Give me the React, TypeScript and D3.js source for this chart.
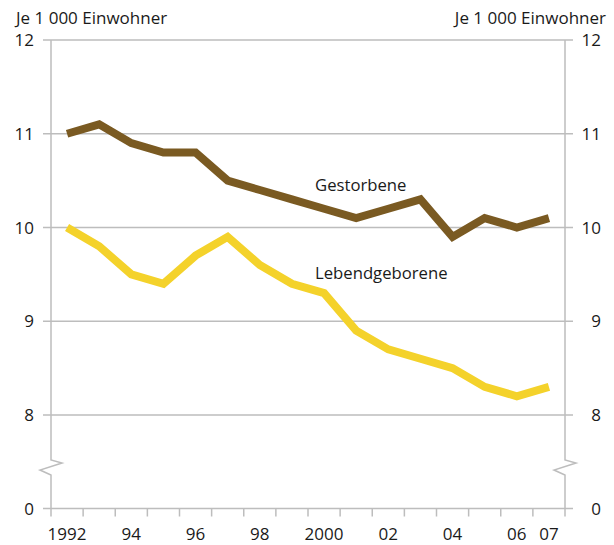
import React from "react";
import * as d3 from "d3";

const years = [1992, 1993, 1994, 1995, 1996, 1997, 1998, 1999, 2000, 2001, 2002, 2003, 2004, 2005, 2006, 2007];
const gestorbene = [11.0, 11.1, 10.9, 10.8, 10.8, 10.5, 10.4, 10.3, 10.2, 10.1, 10.2, 10.3, 9.9, 10.1, 10.0, 10.1];
const lebendgeborene = [10.0, 9.8, 9.5, 9.4, 9.7, 9.9, 9.6, 9.4, 9.3, 8.9, 8.7, 8.6, 8.5, 8.3, 8.2, 8.3];
const yTicks = [0, 8, 9, 10, 11, 12];
const xLabels: Record<number, string> = { 1992: "1992", 1994: "94", 1996: "96", 1998: "98", 2000: "2000", 2002: "02", 2004: "04", 2006: "06", 2007: "07" };
const unitLabel = "Je 1 000 Einwohner";

const W = 614, H = 545;
const left = 51, right = 565;
const FONT = "'Open Sans', 'Noto Sans', sans-serif";
const GRID = "#bdbdbd";
const TXT = "#1a1a1a";

export default function App() {
  const x = d3.scaleBand<number>().domain(years).range([left, right]);
  const y = d3.scaleLinear().domain([0, 8, 12]).range([508.5, 415, 40]);
  const line = d3.line<number>().x((_, i) => x(years[i])! + x.bandwidth() / 2).y((d) => y(d));
  const boundaries = [...years.map((yr) => x(yr)!), right];
  const zig = (ax: number) => {
    const p = d3.path();
    p.moveTo(ax, y(8));
    p.lineTo(ax, 460);
    p.lineTo(ax + 11, 463);
    p.lineTo(ax - 11, 470);
    p.lineTo(ax, 475);
    p.lineTo(ax, y(0));
    return p.toString();
  };
  return (
    <svg width={W} height={H} style={{ position: "absolute", left: 0, top: 0, background: "#fff" }} fontFamily={FONT}>
      {yTicks.map((t) => (
        <g key={t}>
          <line x1={43} x2={573} y1={y(t)} y2={y(t)} stroke={GRID} strokeWidth={1.5} />
          <text x={34} y={y(t)} dy="0.36em" textAnchor="end" fontSize={17} fill={TXT}>{t}</text>
          <text x={601} y={y(t)} dy="0.36em" textAnchor="end" fontSize={17} fill={TXT}>{t}</text>
        </g>
      ))}
      <line x1={left} x2={left} y1={y(12)} y2={y(8)} stroke={GRID} strokeWidth={1.5} />
      <line x1={right} x2={right} y1={y(12)} y2={y(8)} stroke={GRID} strokeWidth={1.5} />
      <path d={zig(left)} fill="none" stroke={GRID} strokeWidth={1.5} />
      <path d={zig(right)} fill="none" stroke={GRID} strokeWidth={1.5} />
      {boundaries.map((b, i) => (
        <line key={i} x1={b} x2={b} y1={y(0)} y2={y(0) + 8} stroke={GRID} strokeWidth={1.5} />
      ))}
      {years.filter((yr) => xLabels[yr]).map((yr) => (
        <text key={yr} x={x(yr)! + x.bandwidth() / 2} y={540} textAnchor="middle" fontSize={17} fill={TXT}>{xLabels[yr]}</text>
      ))}
      <text x={16} y={24} fontSize={17} fill={TXT}>{unitLabel}</text>
      <text x={606} y={24} fontSize={17} fill={TXT} textAnchor="end">{unitLabel}</text>
      <path d={line(gestorbene)!} fill="none" stroke="#7a5a22" strokeWidth={8} strokeLinejoin="miter" />
      <path d={line(lebendgeborene)!} fill="none" stroke="#f4d22b" strokeWidth={8} strokeLinejoin="miter" />
      <text x={315} y={191} fontSize={16.7} fill={TXT}>Gestorbene</text>
      <text x={315} y={279} fontSize={16.7} fill={TXT}>Lebendgeborene</text>
    </svg>
  );
}
